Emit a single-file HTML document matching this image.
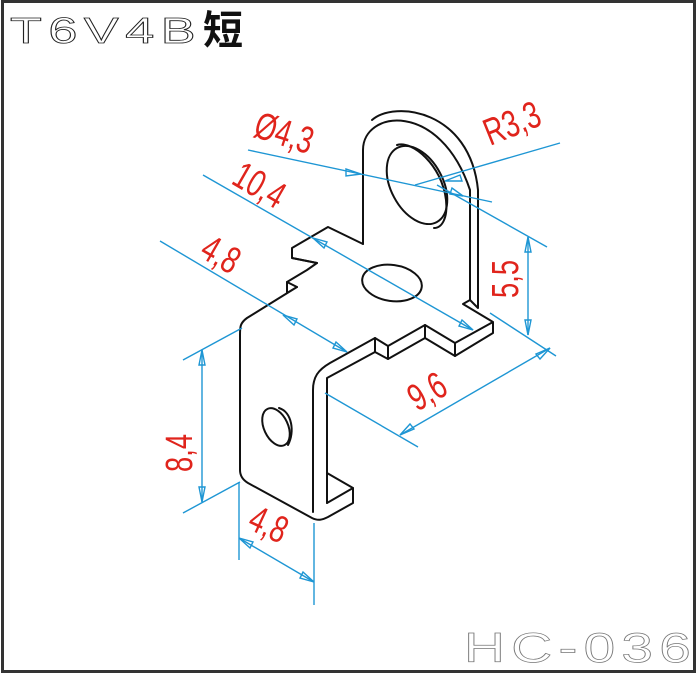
<!DOCTYPE html>
<html><head><meta charset="utf-8"><style>html,body{margin:0;padding:0;background:#fff}svg{display:block}</style></head><body>
<svg width="697" height="674" viewBox="0 0 697 674" xmlns="http://www.w3.org/2000/svg">
<rect x="2.5" y="1.5" width="692" height="670" fill="#fff" stroke="#333" stroke-width="3"/>
<text transform="translate(10,43) scale(1.45,1)" font-family="Liberation Sans, sans-serif" font-size="36" fill="#fff" stroke="#222" stroke-width="0.8" textLength="128" lengthAdjust="spacing">T6V4B</text>
<text x="203" y="44" font-family="Liberation Sans, 'Noto Sans CJK SC', sans-serif" font-size="40" font-weight="bold" fill="#111">短</text>
<text transform="translate(464,662) scale(1.35,1)" font-family="Liberation Sans, sans-serif" font-size="42" fill="#fff" stroke="#777" stroke-width="0.7" textLength="168" lengthAdjust="spacing">HC-036</text>

<g fill="none" stroke="#111" stroke-width="2" stroke-linejoin="round" stroke-linecap="round">
<path d="M363,244 L363,150 C363,110 440,100 470,190 L470,300"/>
<path d="M372,120 C395,100 470,110 478,190 L478,308 L470,300"/>
<ellipse cx="417" cy="185" rx="26" ry="42" transform="rotate(-28 417 185)"/>
<path d="M397,145 C412,140 442,165 446,200 C448,218 442,228 434,228"/>
<path d="M363,244 L328,227 L292,248 L292,258 L317,263 L307,270 L287,282 L287,293 L297,287 L276,300 L247,318 C240,323 240,327 240,335"/>
<path d="M292,258 L317,263"/>
<path d="M287,282 L297,287"/>
<path d="M470,300 L463,304 L493,322 L455,343 L455,356 L493,333 L493,322"/>
<path d="M455,343 L425,325 L388,346 L375,338 L330,363 C318,370 313,377 313,390 L313,512"/>
<path d="M455,356 L425,338 L425,325"/>
<path d="M425,338 L388,359 L388,346"/>
<path d="M388,359 L375,352 L375,338"/>
<path d="M375,352 L327,378 L327,503"/>
<ellipse cx="392" cy="283" rx="30" ry="18" transform="rotate(8 392 283)"/>
<path d="M240,335 L240,470 C240,476 243,480 248,483 L312,518 C318,521 322,520 328,517 L353,503 L353,488 L327,473"/>
<path d="M327,503 L353,488"/>
<ellipse cx="276" cy="427" rx="12" ry="20" transform="rotate(-25 276 427)"/>
<path d="M279,408 C292,412 295,432 288,445"/>
</g>

<g fill="none" stroke="#1e96d4" stroke-width="1.4">
<line x1="248" y1="150" x2="492" y2="202"/>
<line x1="560" y1="143" x2="415" y2="185"/>
<line x1="203" y1="175" x2="473" y2="330"/>
<line x1="437" y1="185" x2="547" y2="247"/>
<line x1="160" y1="241" x2="347" y2="352"/>
<line x1="528" y1="237" x2="528" y2="335"/>
<line x1="490" y1="313" x2="556" y2="356"/>
<line x1="400" y1="435" x2="550" y2="348"/>
<line x1="325" y1="393" x2="418" y2="447"/>
<line x1="202" y1="350" x2="202" y2="502"/>
<line x1="183" y1="360" x2="242" y2="328"/>
<line x1="183" y1="513" x2="240" y2="482"/>
<line x1="239" y1="482" x2="239" y2="560"/>
<line x1="314" y1="523" x2="314" y2="605"/>
<line x1="239" y1="538" x2="314" y2="582"/>
<path d="M313,238 l14,4 l-3,6 z M473,330 l-14,-4 l3,-6 z"/>
<path d="M283,315 l14,4 l-3,6 z M347,352 l-14,-4 l3,-6 z"/>
<path d="M528,237 l-3,15 l6,0 z M528,335 l-3,-15 l6,0 z"/>
<path d="M400,435 l10,-11 l4,5 z M550,348 l-10,11 l-4,-5 z"/>
<path d="M202,350 l-3,15 l6,0 z M202,502 l-3,-15 l6,0 z"/>
<path d="M239,538 l14,4 l-3,6 z M314,582 l-14,-4 l3,-6 z"/>
<path d="M361,174 l-15,-5 l0,7 z M463,196 l-13,-2 l2,-6 z"/>
<path d="M445,181 l15,-6 l2,6 z"/>
</g>

<g font-family="Liberation Sans, sans-serif" font-size="38" fill="#e0241c">
<text transform="translate(252,136) rotate(18) scale(0.72,1)">Ø4,3</text>
<text transform="translate(490,146) rotate(-22) scale(0.72,1)">R3,3</text>
<text transform="translate(230,183) rotate(30) scale(0.72,1)">10,4</text>
<text transform="translate(198,256) rotate(30) scale(0.72,1)">4,8</text>
<text transform="translate(518,298) rotate(-90) scale(0.72,1)">5,5</text>
<text transform="translate(417,412) rotate(-30) scale(0.72,1)">9,6</text>
<text transform="translate(192,472) rotate(-90) scale(0.72,1)">8,4</text>
<text transform="translate(246,528) rotate(25) scale(0.72,1)">4,8</text>
</g>
</svg>
</body></html>
